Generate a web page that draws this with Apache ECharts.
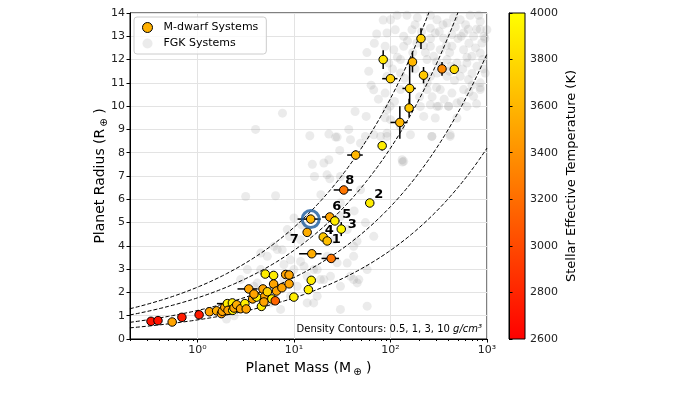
<!DOCTYPE html>
<html>
<head>
<meta charset="utf-8">
<script src="https://cdn.jsdelivr.net/npm/echarts@6/dist/echarts.min.js"></script>
<style>
  html, body { margin: 0; padding: 0; background: #fff; }
  #chart { width: 700px; height: 394px; }
</style>
</head>
<body>
<div id="chart"></div>
<script>
// M-dwarf planets: mass (M_earth), radius (R_earth), host Teff (K)
const mdMass = [207, 84, 169, 100, 220, 342, 458, 158, 156, 125, 43.6, 82,
  32.8, 61, 14.9, 23.5, 26.5, 30.9, 13.7, 20.1, 22.1, 15.3, 24.3,
  0.33, 0.39, 0.547, 0.69, 1.04, 1.33, 1.58, 1.77, 1.88, 1.81, 1.92, 2.04, 2.12, 2.3, 2.07, 2.32,
  2.39, 2.55, 2.8, 3.1, 3.2, 3.4, 3.73, 3.98, 4.6, 4.77, 4.9, 5.04, 5.3, 5.9, 6.15, 6.15, 6.6,
  6.4, 7.5, 8.2, 8.9, 8.9, 9.97, 14.1, 15.1, 4.1, 4.88, 3.85];
const mdRadius = [12.9, 12.0, 11.9, 11.18, 11.33, 11.6, 11.58, 10.76, 9.92, 9.3, 7.9, 8.3,
  6.4, 5.84, 5.15, 5.24, 5.07, 4.72, 4.58, 4.38, 4.21, 3.66, 3.46,
  0.76, 0.79, 0.73, 0.93, 1.04, 1.17, 1.21, 1.09, 1.26, 1.19, 1.36, 1.52, 1.23, 1.55, 1.23, 1.23,
  1.33, 1.47, 1.3, 1.52, 1.29, 2.15, 1.72, 1.86, 1.4, 2.15, 1.8, 2.79, 2.03, 1.72, 2.73, 2.36, 2.06,
  1.64, 2.2, 2.77, 2.75, 2.37, 1.8, 2.12, 2.52, 1.8, 1.59, 1.93];
const mdTeff = [3750, 3850, 3600, 3750, 3700, 3350, 3800, 3750, 3700, 3600, 3600, 3900,
  3250, 3900, 3600, 3500, 3900, 3950, 3550, 3700, 3650, 3550, 3250,
  2700, 2700, 3500, 2750, 2750, 3500, 3550, 3450, 3550, 3500, 3500, 3900, 3900, 3900, 3500, 3900,
  3500, 3550, 3500, 3900, 3500, 3500, 3500, 3500, 3900, 3500, 3500, 3900, 3750, 3900, 3900, 3500, 3500,
  3150, 3500, 3500, 3500, 3500, 3900, 3900, 3900, 3900, 3500, 3500];
// symmetric uncertainties (0 = no visible bar)
const mdMassErr = [0, 0, 15, 18, 0, 0, 30, 25, 0, 25, 8, 0,
  7, 6, 4, 4, 3, 0, 0, 0, 0, 4, 5,
  0, 0, 0, 0, 0, 0, 0, 0, 0, 0, 0, 0.45, 0, 0, 0, 0,
  0, 0, 0, 0, 0, 0.8, 0, 0.3, 0, 0, 0, 0.5, 0, 0, 0, 0, 0,
  0, 0.7, 0, 0, 0.8, 0, 0, 0, 0, 0, 0];
const mdRadiusErr = [0.45, 0.4, 0.45, 0, 0.35, 0.3, 0.2, 1.0, 0.4, 0.7, 0.2, 0.2,
  0.1, 0.1, 0.1, 0.1, 0.1, 0.3, 0, 0, 0, 0, 0,
  0, 0, 0, 0, 0, 0, 0, 0, 0, 0, 0, 0, 0, 0, 0, 0,
  0, 0, 0, 0, 0, 0, 0, 0, 0, 0, 0, 0, 0, 0, 0, 0, 0,
  0, 0, 0, 0, 0, 0, 0, 0, 0, 0, 0];

// numbered planets
const labelIds = ['1', '2', '3', '4', '5', '6', '7', '8'];
const labelMass = [22.1, 61, 30.9, 20.1, 26.5, 23.5, 13.7, 32.8];
const labelRadius = [4.21, 5.84, 4.72, 4.38, 5.07, 5.24, 4.58, 6.4];

// highlighted planet
const ringMass = [14.9];
const ringRadius = [5.15];

// FGK planets [mass, radius]
const fgkPoints = [
  [117, 13.9], [148, 13.9], [259, 13.9], [670, 13.9], [100, 13.71], [303, 13.71], [385, 13.57], [528, 13.71],
  [851, 13.64], [997, 13.28], [92, 13.14], [112, 13.28], [137, 13.0], [167, 13.28], [259, 13.35], [291, 13.14],
  [355, 12.92], [433, 13.07], [572, 13.14], [726, 13.0], [885, 12.71], [88, 12.57], [108, 12.42], [137, 12.57],
  [188, 12.71], [259, 12.57], [328, 12.42], [433, 12.57], [572, 12.42], [698, 12.14], [851, 12.28], [96, 11.85],
  [127, 12.0], [239, 12.0], [280, 12.14], [385, 12.0], [488, 11.85], [619, 11.85], [787, 11.71], [958, 11.42],
  [92, 11.28], [127, 11.42], [259, 11.28], [303, 11.42], [385, 11.28], [528, 11.28], [644, 11.14], [851, 11.0],
  [88, 10.56], [127, 10.71], [239, 10.71], [328, 10.71], [433, 10.56], [572, 10.71], [726, 10.42], [851, 10.71],
  [92, 9.85], [204, 9.99], [259, 10.06], [303, 9.99], [400, 9.99], [488, 10.13], [619, 9.99], [100, 9.42],
  [127, 9.13], [221, 9.56], [291, 9.49], [488, 9.49], [92, 8.7], [161, 8.77], [269, 8.7], [416, 8.77], [132, 7.7],
  [57, 12.3], [68, 12.7], [72, 13.1], [84, 13.7], [59.5, 11.5], [63, 10.9], [67, 10.7], [75, 10.3], [99, 10.0],
  [88, 9.5], [55, 8.7], [79, 8.7], [133, 7.6], [268, 8.7], [415, 8.7], [316, 10.0], [400, 10.0], [850, 10.8],
  [850, 13.3], [56, 9.56], [43, 9.77], [37, 9.0], [29.8, 8.1], [27, 8.67], [23, 8.8], [14.6, 8.73], [15.5, 7.5],
  [16.3, 6.98], [22, 7.05], [23.5, 6.88], [6.45, 6.15], [4.0, 9.0], [7.6, 9.7],
  [180, 13.5], [210, 13.2], [350, 13.5], [450, 13.8], [600, 13.5], [780, 13.3], [230, 12.3], [380, 12.6],
  [500, 12.9], [650, 12.7], [950, 12.9], [170, 12.3], [300, 11.9], [420, 11.7], [700, 11.4], [560, 11.6],
  [900, 12.0], [240, 11.0], [360, 10.3], [650, 10.6], [780, 10.1], [200, 10.4], [110, 10.2], [140, 11.2],
  [190, 13.8], [320, 13.2], [470, 13.4], [540, 13.0], [820, 13.9], [260, 12.9], [410, 12.3], [760, 12.5],
  [620, 12.1], [340, 11.7], [460, 11.1], [700, 10.9], [920, 11.6], [270, 10.4], [540, 10.2], [180, 11.6],
  [150, 12.8], [118, 12.1], [105, 11.6], [220, 12.6], [300, 10.8], [410, 11.5], [930, 13.0], [640, 13.3],
  [28, 8.67], [38.5, 8.56], [48.9, 8.41], [67.1, 8.77], [92, 8.84], [137, 7.63], [20.4, 7.56], [23, 7.7], [3.16, 6.12],
  [5.29, 3.55], [6.72, 3.84], [7.86, 3.2], [9.98, 2.98], [12.7, 3.12], [13.7, 2.69], [17.4, 2.98], [20.4, 2.55],
  [23.9, 2.69], [28, 3.27], [30.3, 2.26], [38.5, 2.69], [45.2, 2.41], [57.3, 2.98], [67.1, 4.41], [7.86, 2.55],
  [6.2, 2.12], [9.2, 1.84], [10.8, 2.26], [22.1, 3.55], [25.9, 4.26], [35.6, 4.7], [11.7, 4.26], [8.52, 4.7],
  [4.52, 2.98], [3.85, 2.26], [4.89, 1.55], [13.7, 1.55], [17.4, 1.84], [7.27, 1.27], [30.3, 1.27], [47, 2.55],
  [57.3, 1.41], [6.2, 3.98], [7.55, 3.83], [9.2, 3.4], [11.7, 3.33], [16, 2.98], [18.8, 2.55], [35.6, 3.26],
  [41.5, 3.98], [41.5, 3.55], [41.5, 2.55], [16, 1.55], [5.73, 1.55], [4.52, 3.69], [3.29, 2.98], [2.8, 2.55],
  [4.17, 2.4], [30.3, 6.98], [48.9, 6.41], [30.3, 5.84], [30.3, 5.26], [2.0, 0.86], [2.4, 1.0],
  [10, 5.2], [12, 4.9], [9, 4.4], [19, 6.2], [42, 5.5], [55, 5.0], [45, 4.2]
];

// density contours (g/cm^3)
const densities = [0.5, 1, 3, 10];
const earthDensity = 5.51;

const xTickExps = ['⁰', '¹', '²', '³'];
const teffTicks = [2600, 4000, 200];

const FONT = 'DejaVu Sans';

function contourLine(rho) {
  const pts = [];
  for (let l = -0.7; l <= 3.0001; l += 0.02) {
    const m = Math.pow(10, l);
    pts.push([m, Math.cbrt(m * earthDensity / rho)]);
  }
  return pts;
}

const minorTicks = [];
for (let k = -1; k <= 2; k++) {
  for (let d = 2; d <= 9; d++) minorTicks.push(d * Math.pow(10, k));
}

const mdData = mdMass.map((m, i) => [m, mdRadius[i], mdTeff[i]]);
const errData = mdMass.map((m, i) => [m, mdRadius[i], mdMassErr[i], mdRadiusErr[i]]);

// pixel offsets of the number labels from their points
const labelOffset = {
  '1': [9, -1], '2': [9, -8], '3': [11, -4], '4': [6, -6],
  '5': [12, -6], '6': [7, -10], '7': [-13, 7], '8': [6, -9]
};
const labelData = labelIds.map((id, i) => [labelMass[i], labelRadius[i], i]);

const chart = echarts.init(document.getElementById('chart'));

const series = [
  {
    name: 'FGK Systems',
    type: 'scatter',
    xAxisIndex: 0, yAxisIndex: 0,
    data: fgkPoints,
    symbolSize: 9,
    itemStyle: { color: 'rgba(140,140,140,0.22)' },
    z: 1,
    silent: true
  }
];
densities.forEach(rho => {
  series.push({
    type: 'line',
    xAxisIndex: 0, yAxisIndex: 0,
    data: contourLine(rho),
    showSymbol: false,
    smooth: false,
    lineStyle: { color: '#000', width: 1, type: [4, 2] },
    z: 2,
    silent: true
  });
});
series.push({
  type: 'custom',
  xAxisIndex: 0, yAxisIndex: 0,
  data: errData,
  encode: { x: 0, y: 1 },
  z: 3,
  renderItem: function (params, api) {
    const m = api.value(0), r = api.value(1), dm = api.value(2), dr = api.value(3);
    const children = [];
    const st = { stroke: '#000', lineWidth: 1.5 };
    if (dm > 0) {
      const a = api.coord([m - dm, r]), b = api.coord([m + dm, r]);
      children.push({ type: 'line', shape: { x1: a[0], y1: a[1], x2: b[0], y2: b[1] }, style: st });
    }
    if (dr > 0) {
      const a = api.coord([m, r - dr]), b = api.coord([m, r + dr]);
      children.push({ type: 'line', shape: { x1: a[0], y1: a[1], x2: b[0], y2: b[1] }, style: st });
    }
    return { type: 'group', children: children };
  }
});
series.push({
  name: 'M-dwarf Systems',
  type: 'scatter',
  xAxisIndex: 0, yAxisIndex: 0,
  data: mdData,
  symbolSize: 8.5,
  itemStyle: { color: '#ffb000', borderColor: '#000', borderWidth: 1, opacity: 1 },
  z: 4
});
series.push({
  type: 'scatter',
  xAxisIndex: 0, yAxisIndex: 0,
  data: ringMass.map((m, i) => [m, ringRadius[i]]),
  symbolSize: 17,
  itemStyle: { color: 'rgba(0,0,0,0)', borderColor: '#1a5a9c', borderWidth: 3 },
  z: 5,
  silent: true
});
series.push({
  type: 'custom',
  xAxisIndex: 0, yAxisIndex: 0,
  data: labelData,
  encode: { x: 0, y: 1 },
  z: 6,
  silent: true,
  renderItem: function (params, api) {
    const id = labelIds[api.value(2)];
    const p = api.coord([api.value(0), api.value(1)]);
    const off = labelOffset[id];
    return {
      type: 'text',
      x: p[0] + off[0], y: p[1] + off[1],
      style: {
        text: id, fill: '#000',
        font: 'bold 13px "DejaVu Sans"',
        align: 'center', verticalAlign: 'middle'
      }
    };
  }
});

const option = {
  animation: false,
  textStyle: { fontFamily: FONT },
  grid: [
    { left: 130, right: 213, top: 13, bottom: 55, show: true, borderColor: '#000', borderWidth: 1 },
    {
      left: 509, width: 16, top: 13, bottom: 55, show: true, borderColor: '#000', borderWidth: 1,
      backgroundColor: new echarts.graphic.LinearGradient(0, 0, 0, 1, [
        { offset: 0, color: '#ffff00' }, { offset: 1, color: '#ff0000' }
      ])
    }
  ],
  xAxis: [
    {
      type: 'log', gridIndex: 0, min: 0.2, max: 1000, logBase: 10,
      name: '{t|Planet Mass (M}{sub|⊕}{t| )}',
      nameLocation: 'middle', nameGap: 20,
      nameTextStyle: {
        rich: {
          t: { fontSize: 14, color: '#000', fontFamily: FONT, lineHeight: 18 },
          sub: { fontSize: 10, color: '#000', fontFamily: FONT, lineHeight: 18, verticalAlign: 'bottom', padding: [0, 0, 0, 2] }
        }
      },
      axisLine: { show: true, onZero: false, lineStyle: { color: '#000' } },
      axisTick: { show: true, length: 3.5, lineStyle: { color: '#000' } },
      axisLabel: {
        showMinLabel: false,
        color: '#222', fontSize: 11, margin: 6,
        formatter: function (v) {
          const e = Math.round(Math.log10(v));
          return '10' + xTickExps[e];
        }
      },
      splitLine: { show: true, lineStyle: { color: '#e3e3e3', width: 1 } }
    },
    {
      type: 'log', gridIndex: 0, min: 0.2, max: 1000, logBase: 10,
      position: 'bottom',
      axisLine: { show: false },
      axisLabel: { show: false },
      splitLine: { show: false },
      axisTick: { show: true, length: 2, customValues: minorTicks, lineStyle: { color: '#000' } }
    },
    { type: 'value', gridIndex: 1, show: false, min: 0, max: 1 }
  ],
  yAxis: [
    {
      type: 'value', gridIndex: 0, min: 0, max: 14, interval: 1,
      name: '{t|Planet Radius (R}{sub|⊕}{t| )}',
      nameLocation: 'middle', nameGap: 21, nameMoveOverlap: false,
      nameTextStyle: {
        rich: {
          t: { fontSize: 14, color: '#000', fontFamily: FONT, lineHeight: 18 },
          sub: { fontSize: 10, color: '#000', fontFamily: FONT, lineHeight: 18, verticalAlign: 'bottom', padding: [0, 0, 0, 2] }
        }
      },
      axisLine: { show: true, lineStyle: { color: '#000' } },
      axisTick: { show: true, length: 3.5, lineStyle: { color: '#000' } },
      axisLabel: { color: '#222', fontSize: 11, margin: 5 },
      splitLine: { show: true, lineStyle: { color: '#e3e3e3', width: 1 } }
    },
    {
      type: 'value', gridIndex: 1, position: 'right',
      min: teffTicks[0], max: teffTicks[1], interval: teffTicks[2],
      name: 'Stellar Effective Temperature (K)',
      nameLocation: 'middle', nameRotate: 90, nameGap: 40,
      nameTextStyle: { fontSize: 13, color: '#000', fontFamily: FONT },
      axisLine: { show: true, lineStyle: { color: '#000' } },
      axisTick: { show: true, length: 3.5, lineStyle: { color: '#000' } },
      axisLabel: { color: '#222', fontSize: 11, margin: 5, formatter: v => String(v) },
      splitLine: { show: false }
    }
  ],
  visualMap: {
    show: false,
    type: 'continuous',
    seriesIndex: 6,
    dimension: 2,
    min: teffTicks[0], max: teffTicks[1],
    inRange: { color: ['#ff0000', '#ffff00'] }
  },
  legend: {
    orient: 'vertical',
    left: 134, top: 17,
    padding: [5, 8, 5, 8],
    itemGap: 5,
    itemWidth: 10, itemHeight: 10,
    borderColor: '#cccccc', borderWidth: 1, borderRadius: 3,
    backgroundColor: 'rgba(255,255,255,0.8)',
    textStyle: { fontSize: 11, color: '#000', fontFamily: FONT, padding: [0, 0, 0, 6] },
    data: [
      { name: 'M-dwarf Systems', icon: 'circle', itemStyle: { color: '#ffb000', borderColor: '#000', borderWidth: 1 } },
      { name: 'FGK Systems', icon: 'circle', itemStyle: { color: 'rgba(140,140,140,0.22)', borderWidth: 0 } }
    ]
  },
  graphic: [
    {
      type: 'text',
      right: 218, bottom: 60,
      z: 10,
      style: {
        text: '{a|Density Contours: 0.5, 1, 3, 10 }{i|g/cm³}',
        rich: {
          a: { fontSize: 10, fill: '#000', fontFamily: FONT },
          i: { fontSize: 10, fill: '#000', fontFamily: FONT, fontStyle: 'italic' }
        }
      }
    }
  ],
  series: series
};

chart.setOption(option);
</script>
</body>
</html>
